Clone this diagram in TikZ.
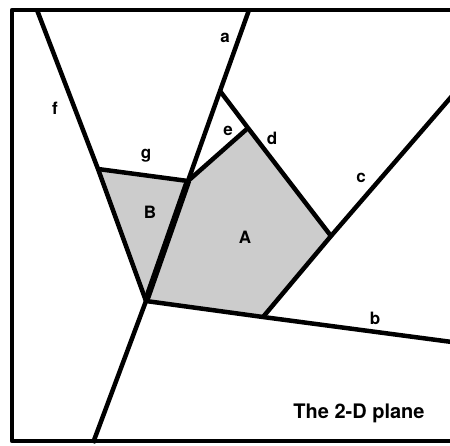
\documentclass[tikz,border=0pt]{standalone}
\usepackage{fontspec}
\setmainfont{TeX Gyre Heros}
\begin{document}
\begin{tikzpicture}[x=1pt, y=-1pt, line join=round,
  every node/.style={font=\fontsize{17}{19}\selectfont\bfseries},
  edge/.style={line width=4.5pt},
  cell/.style={fill=gray!40}]
\useasboundingbox (0,0) rectangle (450,445);
\clip (0,0) rectangle (450,445);
% vertices of the subdivision
\coordinate (Ft) at (37,10); \coordinate (At) at (249,10);
\coordinate (G) at (98,169); \coordinate (E) at (188,181);
\coordinate (P) at (220,91); \coordinate (D) at (248,128);
\coordinate (C) at (331,236); \coordinate (Cr) at (452,96);
\coordinate (Bt) at (263,317); \coordinate (Br) at (452,342);
\coordinate (V) at (146,301); \coordinate (Vb) at (93,443);
% shaded cells
\fill[cell] (E) -- (D) -- (C) -- (Bt) -- (V) -- cycle;
\fill[cell] (G) -- (E) -- (V) -- cycle;
% frame
\draw[edge] (460,10) -- (12,10) -- (12,441) -- (460,441);
% edges
\draw[edge] (Ft) -- (G) -- (V);
\draw[edge] (G) -- (E);
\draw[edge] (At) -- (P) -- (E);
\draw[edge] (P) -- (D) -- (C) -- (Cr);
\draw[edge] (E) -- (D);
\draw[edge] (V) -- (Bt) -- (Br);
\draw[edge] (C) -- (Bt);
\draw[edge] (V) -- (Vb);
\draw[line width=6.5pt] (E) -- (V);
% labels
\node (la) at (225,38) {a};
\node (lf) at (55,108) {f};
\node (le) at (228,131) {e};
\node (ld) at (272,138) {d};
\node (lg) at (146,156) {g};
\node (lc) at (361,178) {c};
\node (lb) at (375,318) {b};
\node (lB) at (150,212) {B};
\node (lA) at (245,237) {A};
\node[font=\fontsize{20}{22}\selectfont\bfseries] (title) at (359,413) {The 2-D plane};
\end{tikzpicture}
\end{document}
